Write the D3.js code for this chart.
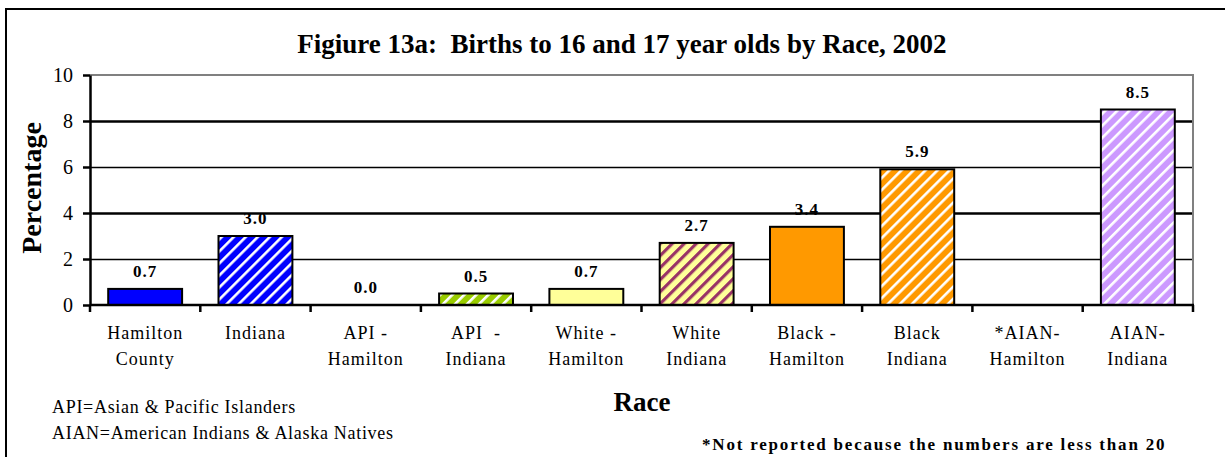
<!DOCTYPE html>
<html>
<head>
<meta charset="utf-8">
<script src="https://cdn.jsdelivr.net/npm/d3@7"></script>
<style>
  body { margin: 0; background: #fff; }
  svg text { font-family: "Liberation Serif", "Times New Roman", serif; white-space: pre; }
</style>
</head>
<body>
<div id="chart"></div>
<script>
// chart data
let categories = ["Hamilton\nCounty", "Indiana", "API -\nHamilton", "API  -\nIndiana", "White -\nHamilton",
                  "White\nIndiana", "Black -\nHamilton", "Black\nIndiana", "*AIAN-\nHamilton", "AIAN-\nIndiana"];
let values = [0.7, 3.0, 0.0, 0.5, 0.7, 2.7, 3.4, 5.9, null, 8.5];
let yTicks = [0, 2, 4, 6, 8, 10];
let notes = ["API=Asian & Pacific Islanders", "AIAN=American Indians & Alaska Natives"];

// fills per bar (solid or striped)
let barFills = ["#0000ff", "url(#stBlue)", "#99cc00", "url(#stGreen)", "#ffff99",
                "url(#stYellow)", "#ff9900", "url(#stOrange)", "#cc99ff", "url(#stLav)"];
let stripes = [
    {id: "stBlue", bg: "#0000ff", fg: "#ffffff", w: 2.6},
    {id: "stGreen", bg: "#99cc00", fg: "#ffffff", w: 2.6},
    {id: "stYellow", bg: "#ffff99", fg: "#993366", w: 3.2},
    {id: "stOrange", bg: "#ff9900", fg: "#ffffff", w: 2.6},
    {id: "stLav", bg: "#cc99ff", fg: "#ffffff", w: 2.6}
];

let W = 1225, H = 457;
let pLeft = 90, pRight = 1193, pTop = 75, pBottom = 305;

let svg = d3.select("#chart").append("svg")
    .attr("width", W)
    .attr("height", H);

let defs = svg.append("defs");
stripes.forEach(function(s) {
    let p = defs.append("pattern")
        .attr("id", s.id)
        .attr("patternUnits", "userSpaceOnUse")
        .attr("width", 8.5)
        .attr("height", 8.5)
        .attr("patternTransform", "rotate(45)");
    p.append("rect").attr("width", 8.5).attr("height", 8.5).attr("fill", s.bg);
    p.append("rect").attr("x", 0).attr("width", s.w).attr("height", 8.5).attr("fill", s.fg);
});

// outer frame
svg.append("rect")
    .attr("x", 6).attr("y", 9)
    .attr("width", 1240).attr("height", 470)
    .attr("fill", "none")
    .attr("stroke", "#000")
    .attr("stroke-width", 2);

let x = d3.scaleBand()
    .domain(categories)
    .range([pLeft, pRight])
    .paddingInner(0.33)
    .paddingOuter(0.165);

let y = d3.scaleLinear()
    .domain([0, 10])
    .range([pBottom, pTop]);

// value labels (drawn under the gridlines, as in the original)
svg.append("g").selectAll("text")
    .data(values.map((v, i) => ({v: v, c: categories[i]})).filter(d => d.v !== null))
    .enter()
    .append("text")
    .attr("x", d => x(d.c) + x.bandwidth() / 2)
    .attr("y", d => y(d.v) - 12)
    .attr("text-anchor", "middle")
    .style("font-size", "17px")
    .style("font-weight", "bold")
    .style("letter-spacing", "1px")
    .text(d => d.v.toFixed(1));

// gridlines
let grid = svg.append("g")
    .attr("transform", "translate(" + pLeft + ",0)")
    .call(d3.axisLeft(y).tickValues(yTicks.filter(t => t > 0 && t < 10)).tickSize(-(pRight - pLeft)).tickFormat(""));
grid.select(".domain").remove();
grid.selectAll(".tick line")
    .attr("stroke", "#000")
    .attr("stroke-width", d => (d % 4 == 0) ? 2.6 : 1.5);

// plot border (grey top + right)
svg.append("path")
    .attr("d", "M" + pLeft + "," + pTop + "H" + pRight + "V" + pBottom)
    .attr("fill", "none")
    .attr("stroke", "#808080")
    .attr("stroke-width", 2);

// bars
svg.append("g").selectAll("rect")
    .data(values.map((v, i) => ({v: v, c: categories[i], f: barFills[i]})).filter(d => d.v !== null && d.v > 0))
    .enter()
    .append("rect")
    .attr("x", d => x(d.c))
    .attr("y", d => y(d.v))
    .attr("width", x.bandwidth())
    .attr("height", d => y(0) - y(d.v))
    .attr("fill", d => d.f)
    .attr("stroke", "#000")
    .attr("stroke-width", 2);

// y axis
let yAxis = svg.append("g")
    .attr("transform", "translate(" + pLeft + ",0)")
    .call(d3.axisLeft(y).tickValues(yTicks).tickSize(7).tickPadding(10).tickSizeOuter(0));
yAxis.select(".domain").attr("stroke-width", 2.5);
yAxis.selectAll(".tick line").attr("stroke-width", 2.5);
yAxis.selectAll(".tick text")
    .style("font-size", "20px")
    .attr("fill", "#000");

// x axis with ticks on category boundaries
let xAxis = svg.append("g")
    .attr("transform", "translate(0," + pBottom + ")");
xAxis.append("line")
    .attr("x1", pLeft).attr("x2", pRight + 1)
    .attr("stroke", "#000")
    .attr("stroke-width", 2.5);
let step = x.step();
xAxis.selectAll("line.tk")
    .data(d3.range(categories.length + 1))
    .enter()
    .append("line")
    .attr("class", "tk")
    .attr("x1", i => pLeft + i * step)
    .attr("x2", i => pLeft + i * step)
    .attr("y1", 0).attr("y2", 7)
    .attr("stroke", "#000")
    .attr("stroke-width", 2.5);

let catLabels = svg.append("g").selectAll("text")
    .data(categories)
    .enter()
    .append("text")
    .attr("x", d => x(d) + x.bandwidth() / 2)
    .attr("y", 339)
    .attr("text-anchor", "middle")
    .style("font-size", "18px")
    .style("letter-spacing", "1px");
catLabels.each(function(d) {
    let lines = d.split("\n");
    let t = d3.select(this);
    lines.forEach(function(l, k) {
        t.append("tspan")
            .attr("x", x(d) + x.bandwidth() / 2)
            .attr("dy", k == 0 ? 0 : 26)
            .text(l);
    });
});

// titles
svg.append("text")
    .attr("x", 622).attr("y", 53)
    .attr("text-anchor", "middle")
    .style("font-size", "27px")
    .style("font-weight", "bold")
    .text("Figiure 13a:  Births to 16 and 17 year olds by Race, 2002");

svg.append("text")
    .attr("transform", "translate(41,188) rotate(-90)")
    .attr("text-anchor", "middle")
    .style("font-size", "28px")
    .style("font-weight", "bold")
    .text("Percentage");

svg.append("text")
    .attr("x", 642).attr("y", 411)
    .attr("text-anchor", "middle")
    .style("font-size", "27px")
    .style("font-weight", "bold")
    .text("Race");

svg.append("g").selectAll("text")
    .data(notes)
    .enter()
    .append("text")
    .attr("x", 52)
    .attr("y", (d, i) => 413 + i * 25.5)
    .style("font-size", "18px")
    .style("letter-spacing", "0.7px")
    .text(d => d);

svg.append("text")
    .attr("x", 702).attr("y", 450)
    .style("font-size", "17px")
    .style("font-weight", "bold")
    .style("letter-spacing", "1.8px")
    .text("*Not reported because the numbers are less than 20");
</script>
</body>
</html>
